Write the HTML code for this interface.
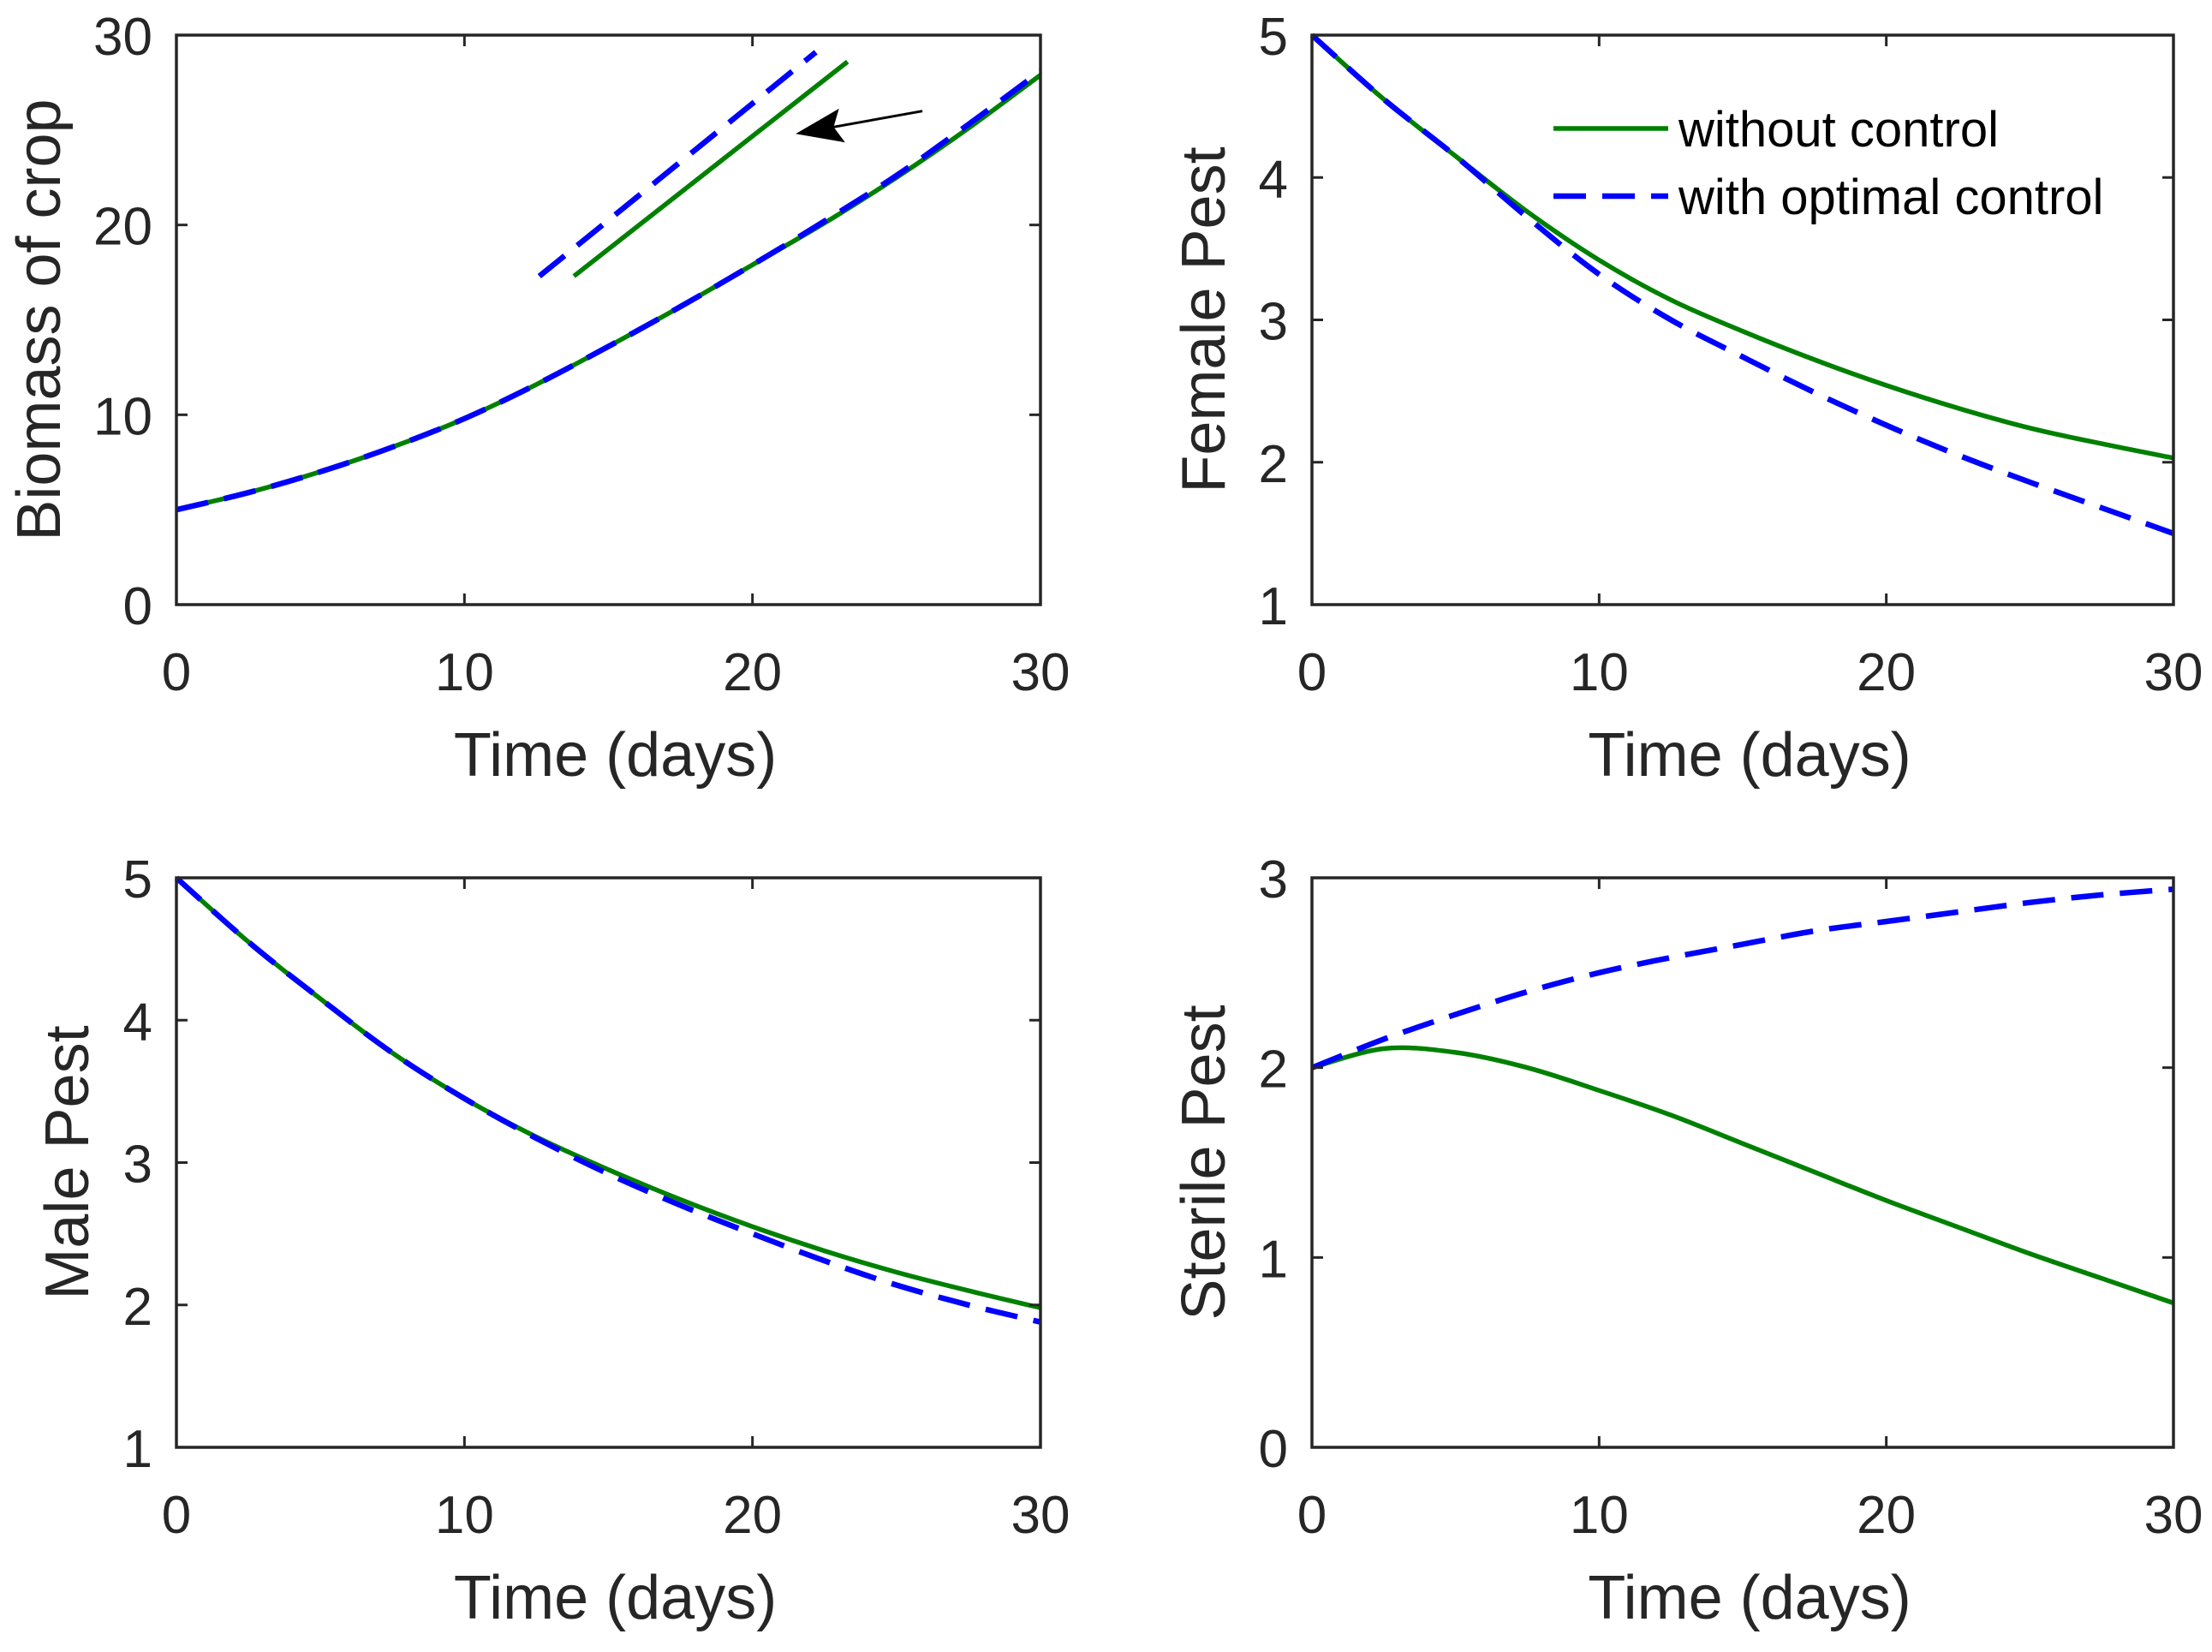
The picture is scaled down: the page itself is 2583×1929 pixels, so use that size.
<!DOCTYPE html>
<html><head><meta charset="utf-8"><style>
html,body{margin:0;padding:0;background:#fff;}
svg{display:block;font-family:"Liberation Sans",sans-serif;}
</style></head><body>
<svg id="fig" width="2583" height="1929" viewBox="0 0 2583 1929" xmlns="http://www.w3.org/2000/svg"></svg>
<script>
const times = [0,2.5,5,7.5,10,12.5,15,17.5,20,22.5,25,27.5,30];
const cropNoCtrl = [5,5.9,7.0,8.3,9.8,11.6,13.6,15.7,17.9,20.1,22.5,25.1,27.9];
const cropCtrl   = [5,5.9,7.0,8.3,9.8,11.6,13.6,15.7,17.9,20.2,22.6,25.3,28.1];
const femaleNoCtrl = [5,4.55,4.15,3.76,3.42,3.14,2.92,2.72,2.54,2.38,2.24,2.13,2.03];
const femaleCtrl   = [5,4.55,4.15,3.72,3.32,3.0,2.74,2.49,2.26,2.05,1.86,1.68,1.5];
const maleNoCtrl = [5,4.55,4.15,3.77,3.45,3.18,2.95,2.74,2.55,2.38,2.23,2.1,1.98];
const maleCtrl   = [5,4.55,4.15,3.77,3.45,3.17,2.92,2.7,2.5,2.31,2.14,2.0,1.88];
const sterileNoCtrl = [2,2.1,2.08,2.0,1.88,1.75,1.6,1.45,1.3,1.16,1.02,0.89,0.76];
const sterileCtrl   = [2,2.15,2.28,2.4,2.5,2.58,2.65,2.72,2.77,2.82,2.87,2.91,2.94];
const xTicks = [0,10,20,30];
const insetDashed = [[12.6,17.3],[22.2,29.1]];
const insetSolid = [[13.8,17.3],[23.3,28.6]];
const arrowPts = [[25.9,26.0],[21.5,24.8]];

const svg = document.getElementById('fig');
const NS = 'http://www.w3.org/2000/svg';
function mk(tag, attrs, parent){const e=document.createElementNS(NS,tag);for(const k in attrs)e.setAttribute(k,attrs[k]);(parent||svg).appendChild(e);return e;}
function smooth(P){
  let d='M'+P[0][0].toFixed(1)+','+P[0][1].toFixed(1);
  for(let i=0;i<P.length-1;i++){
    const p0=P[Math.max(i-1,0)],p1=P[i],p2=P[i+1],p3=P[Math.min(i+2,P.length-1)];
    const c1=[p1[0]+(p2[0]-p0[0])/6,p1[1]+(p2[1]-p0[1])/6];
    const c2=[p2[0]-(p3[0]-p1[0])/6,p2[1]-(p3[1]-p1[1])/6];
    d+=' C'+c1.map(v=>v.toFixed(1)).join(',')+' '+c2.map(v=>v.toFixed(1)).join(',')+' '+p2[0].toFixed(1)+','+p2[1].toFixed(1);
  }
  return d;
}

const panels = [
 {name:'crop',x0:206,x1:1215,y0:41,y1:706,ymin:0,ymax:30,yt:[0,10,20,30],label:'Biomass of crop',lx:46,g:cropNoCtrl,b:cropCtrl},
 {name:'female',x0:1532,x1:2538,y0:41,y1:706,ymin:1,ymax:5,yt:[1,2,3,4,5],label:'Female Pest',lx:1406,g:femaleNoCtrl,b:femaleCtrl},
 {name:'male',x0:206,x1:1215,y0:1025,y1:1690,ymin:1,ymax:5,yt:[1,2,3,4,5],label:'Male Pest',lx:79,g:maleNoCtrl,b:maleCtrl},
 {name:'sterile',x0:1532,x1:2538,y0:1025,y1:1690,ymin:0,ymax:3,yt:[0,1,2,3],label:'Sterile Pest',lx:1406,g:sterileNoCtrl,b:sterileCtrl}
];
panels.forEach(p=>{
  const g = mk('g',{});
  
  
  const X=t=>p.x0+(t-0)/30*(p.x1-p.x0);
  const Y=v=>p.y1-(v-p.ymin)/(p.ymax-p.ymin)*(p.y1-p.y0);
  const pts=arr=>arr.map((v,i)=>[X(times[i]),Y(v)]);
  const gl=mk('path',{d:smooth(pts(p.g)),fill:'none',stroke:'#008000','stroke-width':5.5,'stroke-linejoin':'round'},g);
  
  
  const bl=mk('path',{d:smooth(pts(p.b)),fill:'none',stroke:'#0000ff','stroke-width':6.5,'stroke-dasharray':'38 19'},g);
  
  
  const box=mk('rect',{x:p.x0,y:p.y0,width:p.x1-p.x0,height:p.y1-p.y0,fill:'none',stroke:'#262626','stroke-width':3.5},g);
  
  
  xTicks.forEach(t=>{
    const x=X(t);
    mk('line',{x1:x,x2:x,y1:p.y1,y2:p.y1-13,stroke:'#262626','stroke-width':3},g);
    mk('line',{x1:x,x2:x,y1:p.y0,y2:p.y0+13,stroke:'#262626','stroke-width':3},g);
    const tx=mk('text',{x:x,y:p.y1+100,'font-size':62,'text-anchor':'middle',fill:'#262626'},g);
    tx.textContent=t;
    
    
  });
  p.yt.forEach(v=>{
    const y=Y(v);
    mk('line',{x1:p.x0,x2:p.x0+13,y1:y,y2:y,stroke:'#262626','stroke-width':3},g);
    mk('line',{x1:p.x1,x2:p.x1-13,y1:y,y2:y,stroke:'#262626','stroke-width':3},g);
    const ty=mk('text',{x:p.x0-28,y:y+23,'font-size':62,'text-anchor':'end',fill:'#262626'},g);
    ty.textContent=v;
    
    
  });
  const xl=mk('text',{x:(p.x0+p.x1)/2+8,y:p.y1+200,'font-size':72,'text-anchor':'middle',fill:'#262626'},g);
  xl.textContent='Time (days)';
  
  
  const cy=(p.y0+p.y1)/2;
  const yl=mk('text',{x:p.lx,y:cy,'font-size':72,'text-anchor':'middle',fill:'#262626',transform:'rotate(-90 '+p.lx+' '+cy+')','dominant-baseline':'central'},g);
  yl.textContent=p.label;
  
  
  p.X=X;p.Y=Y;
});
const c=panels[0];
const d=mk('line',{x1:c.X(insetDashed[0][0]),y1:c.Y(insetDashed[0][1]),x2:c.X(insetDashed[1][0]),y2:c.Y(insetDashed[1][1]),stroke:'#0000ff','stroke-width':6.5,'stroke-dasharray':'38 19'});


const s=mk('line',{x1:c.X(insetSolid[0][0]),y1:c.Y(insetSolid[0][1]),x2:c.X(insetSolid[1][0]),y2:c.Y(insetSolid[1][1]),stroke:'#008000','stroke-width':5.5});


const ax1=c.X(arrowPts[0][0]),ay1=c.Y(arrowPts[0][1]),ax2=c.X(arrowPts[1][0]),ay2=c.Y(arrowPts[1][1]);
const ag=mk('g',{});


const ang=Math.atan2(ay2-ay1,ax2-ax1);
const hx=ax2-Math.cos(ang)*45, hy=ay2-Math.sin(ang)*45;
mk('line',{x1:ax1,y1:ay1,x2:hx,y2:hy,stroke:'#000','stroke-width':3},ag);
const px=-Math.sin(ang)*20, py=Math.cos(ang)*20;
const bx=ax2-Math.cos(ang)*55, by=ay2-Math.sin(ang)*55;
mk('polygon',{points:`${ax2},${ay2} ${bx+px},${by+py} ${hx},${hy} ${bx-px},${by-py}`,fill:'#000'},ag);
const lg=mk('g',{});


const e1=mk('g',{},lg);


mk('line',{x1:1814,x2:1948,y1:150,y2:150,stroke:'#008000','stroke-width':5.5},e1);
const t1=mk('text',{x:1960,y:171,'font-size':58,fill:'#000'},e1);t1.textContent='without control';
const e2=mk('g',{},lg);


mk('line',{x1:1814,x2:1948,y1:229,y2:229,stroke:'#0000ff','stroke-width':6.5,'stroke-dasharray':'38 19'},e2);
const t2=mk('text',{x:1960,y:250,'font-size':58,fill:'#000'},e2);t2.textContent='with optimal control';
</script>
</body></html>
